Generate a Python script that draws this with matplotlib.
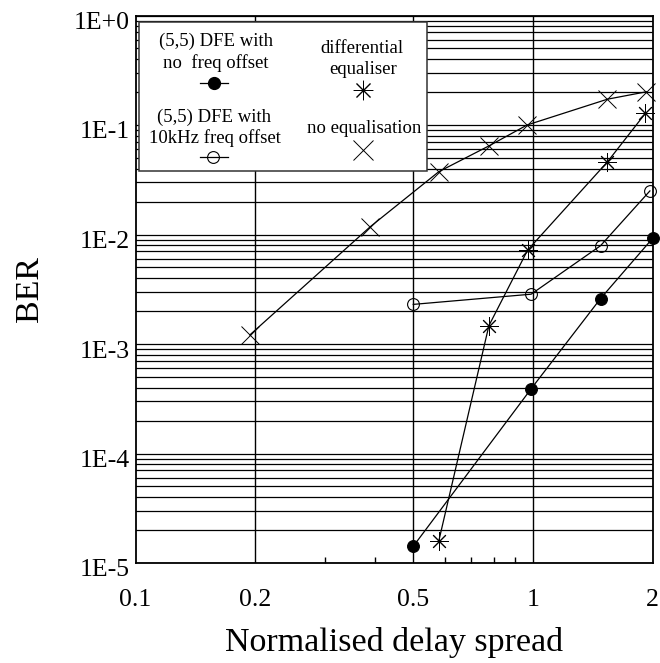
import matplotlib
matplotlib.use("Agg")
import matplotlib.pyplot as plt
import matplotlib.transforms as mtransforms
from matplotlib.lines import Line2D
from matplotlib.patches import Rectangle
from matplotlib.ticker import FixedLocator, FuncFormatter, NullFormatter, LogLocator

plt.rcParams['font.family'] = ['Liberation Serif', 'DejaVu Serif']

# (5,5) DFE, no frequency offset
dfe_x = [0.5, 0.99, 1.48, 2.0]
dfe_ber = [1.42e-5, 3.9e-4, 2.6e-3, 9.2e-3]
# (5,5) DFE, 10kHz frequency offset
dfe_off_x = [0.5, 0.99, 1.48, 1.97]
dfe_off_ber = [2.3e-3, 2.85e-3, 7.9e-3, 2.5e-2]
# differential equaliser
diff_x = [0.58, 0.775, 0.97, 1.54, 1.92]
diff_ber = [1.6e-5, 1.47e-3, 7.2e-3, 4.6e-2, 1.28e-1]
# no equalisation
noeq_x = [0.194, 0.39, 0.58, 0.775, 0.967, 1.54, 1.93]
noeq_ber = [1.21e-3, 1.18e-2, 3.75e-2, 6.44e-2, 1.0e-1, 1.72e-1, 2.01e-1]

x_ticks = [0.1, 0.2, 0.5, 1, 2]
x_tick_labels = ['0.1', '0.2', '0.5', '1', '2']
x_minor = [0.3, 0.4, 0.6, 0.7, 0.8, 0.9]
y_ticks = [1e-5, 1e-4, 1e-3, 1e-2, 1e-1, 1e0]
y_tick_labels = ['1E-5', '1E-4', '1E-3', '1E-2', '1E-1', '1E+0']

W, H = 660, 663
fig = plt.figure(figsize=(W / 100, H / 100), dpi=100)
ax = fig.add_axes([135.5 / W, 1 - 563 / H, 517 / W, 547.5 / H])
ax.set_xscale('log')
ax.set_yscale('log')
ax.set_xlim(0.1, 2)
ax.set_ylim(1e-5, 1)

# grid: vertical only at the inner major ticks, horizontal at every decade step
for v in x_ticks[1:-1]:
    ax.axvline(v, color='black', lw=1.0, zorder=1)
ax.yaxis.set_major_locator(FixedLocator(y_ticks))
ax.yaxis.set_minor_locator(LogLocator(base=10, subs=range(2, 10), numticks=20))
ax.yaxis.set_minor_formatter(NullFormatter())
ax.grid(True, axis='y', which='both', color='black', lw=0.9, zorder=1)
ax.set_axisbelow(True)

ax.xaxis.set_major_locator(FixedLocator(x_ticks))
ax.xaxis.set_major_formatter(FuncFormatter(lambda v, p: x_tick_labels[p] if p < len(x_tick_labels) else ''))
ax.xaxis.set_minor_locator(FixedLocator(x_minor))
ax.xaxis.set_minor_formatter(NullFormatter())
ax.yaxis.set_major_formatter(FuncFormatter(lambda v, p: y_tick_labels[p] if p < len(y_tick_labels) else ''))

ax.tick_params(axis='x', which='major', length=0, pad=19, labelsize=18.5)
ax.tick_params(axis='x', which='minor', direction='in', length=4, width=1.0, color='black')
ax.tick_params(axis='y', which='both', length=0, pad=4, labelsize=18.5)
offset = mtransforms.ScaledTranslation(0, -5 / 100, fig.dpi_scale_trans)
for lab in ax.get_yticklabels():
    lab.set_transform(lab.get_transform() + offset)

for s in ax.spines.values():
    s.set_linewidth(1.3)
    s.set_color('black')

lw = 0.9
ax.plot(noeq_x, noeq_ber, color='black', lw=lw, marker='x', ms=13, mew=0.7, clip_on=False, zorder=3)
ax.plot(diff_x, diff_ber, color='black', lw=lw, marker=(8, 2, 0), ms=13, mew=0.7, clip_on=False, zorder=3)
ax.plot(dfe_off_x, dfe_off_ber, color='black', lw=lw, marker='o', ms=8.5, mfc='none', mew=0.8,
        clip_on=False, zorder=3)
ax.plot(dfe_x, dfe_ber, color='black', lw=lw, marker='o', ms=8.5, mfc='black', mew=0.8,
        clip_on=False, zorder=3)

# hand-made legend box (text above the symbol)
def fx(px):
    return px / W


def fy(py):
    return 1 - py / H


fig.add_artist(Rectangle((fx(139.3), fy(170.7)), fx(427.3) - fx(139.3), fy(21.7) - fy(170.7),
                         transform=fig.transFigure, facecolor='white', edgecolor='#333333',
                         lw=1.1, zorder=5))
leg_fs = 13.5
for txt, px, py in [('(5,5) DFE with', 216, 41), ('no  freq offset', 216, 63),
                    ('(5,5) DFE with', 214, 117), ('10kHz freq offset', 215, 138.5),
                    ('differential', 361.5, 48.5), ('equaliser', 363.5, 70),
                    ('no equalisation', 364, 128.5)]:
    fig.text(fx(px), fy(py), txt, ha='center', va='center', fontsize=leg_fs, zorder=6)

fig.add_artist(Line2D([fx(200), fx(228)], [fy(82.7), fy(82.7)], transform=fig.transFigure,
                      color='black', lw=0.9, zorder=6))
fig.add_artist(Line2D([fx(214)], [fy(82.7)], transform=fig.transFigure, color='black',
                      ls='none', marker='o', ms=8.5, mfc='black', zorder=6))
fig.add_artist(Line2D([fx(200), fx(228)], [fy(156.7), fy(156.7)], transform=fig.transFigure,
                      color='black', lw=0.9, zorder=6))
fig.add_artist(Line2D([fx(213.3)], [fy(156.7)], transform=fig.transFigure, color='black',
                      ls='none', marker='o', ms=8.5, mfc='none', mew=0.8, zorder=6))
fig.add_artist(Line2D([fx(363.3)], [fy(90)], transform=fig.transFigure, color='black',
                      ls='none', marker=(8, 2, 0), ms=14, mew=0.7, zorder=6))
fig.add_artist(Line2D([fx(363.3)], [fy(150)], transform=fig.transFigure, color='black',
                      ls='none', marker='x', ms=14, mew=0.7, zorder=6))

fig.text(fx(394), fy(642), 'Normalised delay spread', ha='center', va='center', fontsize=24.5)
fig.text(fx(30), fy(289), 'BER', ha='center', va='center', rotation=90, fontsize=24.5)

fig.savefig('out.png', dpi=100)
